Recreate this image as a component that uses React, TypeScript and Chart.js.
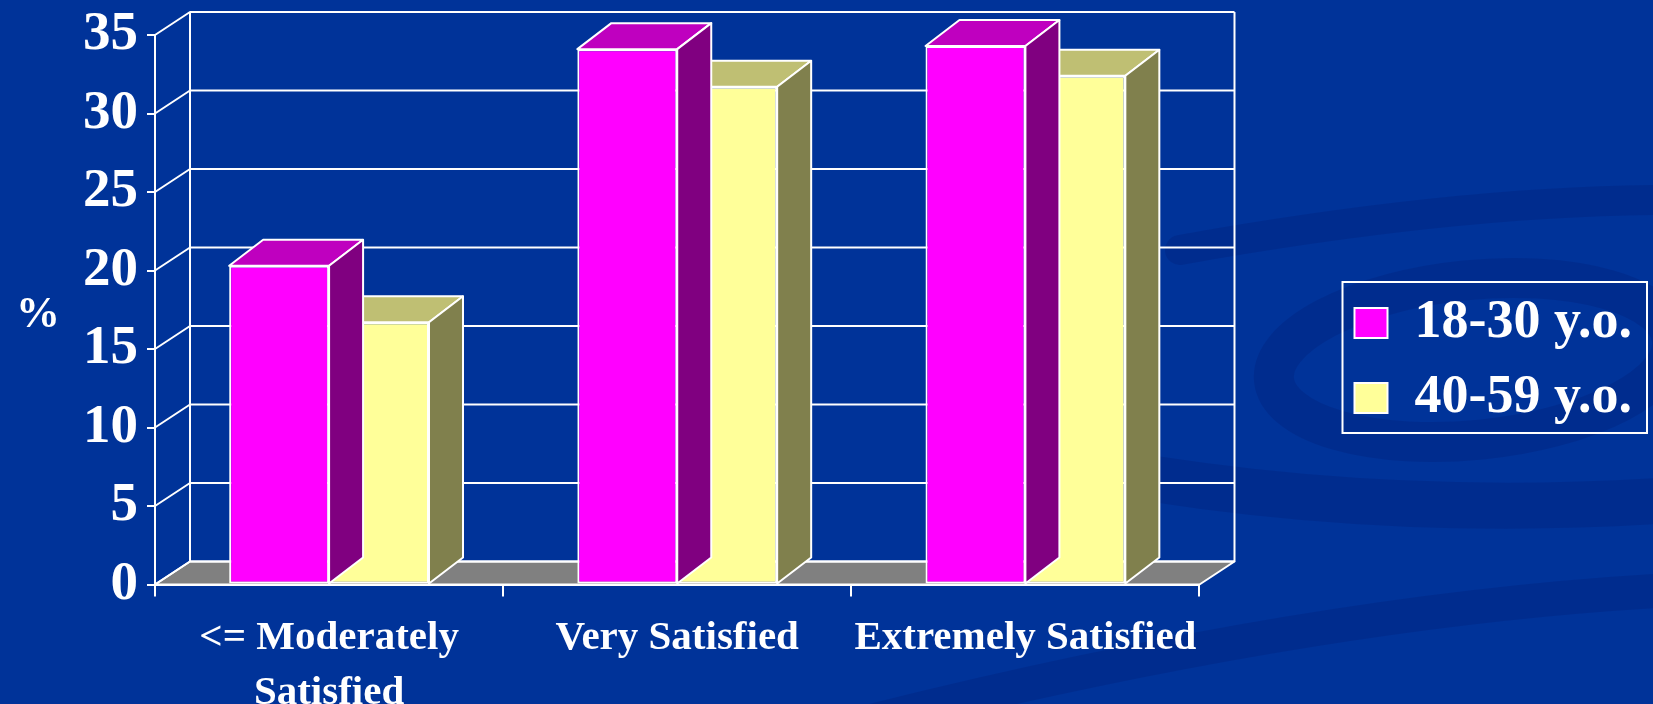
import React, { useEffect, useRef } from 'react';
import { Chart, registerables } from 'chart.js';

Chart.register(...registerables);

// ---- data ----
const categories: (string | string[])[] = [['<= Moderately', 'Satisfied'], 'Very Satisfied', 'Extremely Satisfied'];
const seriesNames = ['18-30 y.o.', '40-59 y.o.'];
const young = [20.3, 34.1, 34.3];
const older = [16.7, 31.7, 32.4];
const yTickValues = [0, 5, 10, 15, 20, 25, 30, 35];
const axisTitle = '%';

// ---- styles ----
const BG = '#003399';
const frontColors = ['#FF00FF', '#FFFF99'];
const topColors = ['#BF00BF', '#BFBF73'];
const sideColors = ['#800080', '#80804D'];
const FLOOR = '#808080';
const FONT = "'Liberation Serif', 'Times New Roman', serif";
const WALL_DX = 35;
const WALL_DY = 23;
const BAR_DX = 34;
const BAR_DY = 26;

function poly(ctx: CanvasRenderingContext2D, pts: number[][], fill: string | null) {
  ctx.beginPath();
  ctx.moveTo(pts[0][0], pts[0][1]);
  for (let i = 1; i < pts.length; i++) ctx.lineTo(pts[i][0], pts[i][1]);
  ctx.closePath();
  if (fill) {
    ctx.fillStyle = fill;
    ctx.fill();
  }
  ctx.stroke();
}

const threeD = {
  id: 'threeD',
  beforeDraw(chart: any) {
    const ctx: CanvasRenderingContext2D = chart.ctx;
    const W = chart.width, H = chart.height;
    ctx.save();
    ctx.fillStyle = BG;
    ctx.fillRect(0, 0, W, H);
    // subtle decorative swirls
    ctx.strokeStyle = 'rgba(0, 25, 105, 0.22)';
    ctx.lineCap = 'round';
    ctx.lineWidth = 40;
    ctx.beginPath();
    ctx.ellipse(W - 180, 360, 200, 80, -0.1, 0, Math.PI * 2);
    ctx.stroke();
    ctx.lineWidth = 46;
    ctx.beginPath();
    ctx.moveTo(1100, 470);
    ctx.quadraticCurveTo(1380, 520, W + 20, 500);
    ctx.stroke();
    ctx.lineWidth = 34;
    ctx.beginPath();
    ctx.moveTo(820, H + 30);
    ctx.quadraticCurveTo(1300, 610, W + 20, 590);
    ctx.stroke();
    ctx.lineWidth = 30;
    ctx.beginPath();
    ctx.moveTo(1180, 250);
    ctx.quadraticCurveTo(1460, 200, W + 20, 200);
    ctx.stroke();
    ctx.restore();
  },
  beforeDatasetsDraw(chart: any) {
    const ctx: CanvasRenderingContext2D = chart.ctx;
    const y = chart.scales.y;
    const { left, right } = chart.chartArea;
    const y0 = y.getPixelForValue(0);
    const yTop = y.getPixelForValue(yTickValues[yTickValues.length - 1]);
    ctx.save();
    ctx.strokeStyle = '#FFFFFF';
    ctx.lineWidth = 2;
    ctx.lineJoin = 'round';
    // floor
    poly(ctx, [[left, y0], [right, y0], [right + WALL_DX, y0 - WALL_DY], [left + WALL_DX, y0 - WALL_DY]], FLOOR);
    // back wall gridlines + side diagonals
    yTickValues.forEach((v) => {
      const py = y.getPixelForValue(v);
      ctx.beginPath();
      ctx.moveTo(left, py);
      ctx.lineTo(left + WALL_DX, py - WALL_DY);
      ctx.lineTo(right + WALL_DX, py - WALL_DY);
      ctx.stroke();
    });
    // back wall verticals
    ctx.beginPath();
    ctx.moveTo(left + WALL_DX, yTop - WALL_DY);
    ctx.lineTo(left + WALL_DX, y0 - WALL_DY);
    ctx.moveTo(right + WALL_DX, yTop - WALL_DY);
    ctx.lineTo(right + WALL_DX, y0 - WALL_DY);
    ctx.stroke();
    ctx.restore();
  },
  afterDatasetDraw(chart: any, args: any) {
    const ctx: CanvasRenderingContext2D = chart.ctx;
    const meta = args.meta;
    const idx = args.index;
    ctx.save();
    ctx.strokeStyle = '#FFFFFF';
    ctx.lineWidth = 2;
    ctx.lineJoin = 'round';
    meta.data.forEach((el: any) => {
      const { x, y, base, width } = el.getProps(['x', 'y', 'base', 'width'], true);
      const l = x - width / 2;
      const r = x + width / 2;
      poly(ctx, [[l, y], [r, y], [r + BAR_DX, y - BAR_DY], [l + BAR_DX, y - BAR_DY]], topColors[idx]);
      poly(ctx, [[r, y], [r + BAR_DX, y - BAR_DY], [r + BAR_DX, base - BAR_DY], [r, base]], sideColors[idx]);
    });
    ctx.restore();
  },
  afterDraw(chart: any) {
    const ctx: CanvasRenderingContext2D = chart.ctx;
    // legend frame
    const hb = chart.legend && chart.legend.legendHitBoxes;
    if (hb && hb.length) {
      let minL = Infinity, maxR = -Infinity;
      hb.forEach((b: any) => {
        minL = Math.min(minL, b.left);
        maxR = Math.max(maxR, b.left + b.width);
      });
      const top = hb[0].top - 14;
      const last = hb[hb.length - 1];
      const bottom = last.top + last.height + 8;
      ctx.save();
      ctx.strokeStyle = '#FFFFFF';
      ctx.lineWidth = 2;
      ctx.strokeRect(minL - 12, top, maxR - minL + 27, bottom - top);
      ctx.restore();
    }
    // unrotated axis title
    const ya = chart.scales.y;
    ctx.save();
    ctx.fillStyle = '#FFFFFF';
    ctx.font = `bold 44px ${FONT}`;
    ctx.textAlign = 'center';
    ctx.textBaseline = 'middle';
    ctx.fillText(axisTitle, 38, (ya.top + ya.bottom) / 2 + 6);
    ctx.restore();
  },
};

export default function App() {
  const ref = useRef<HTMLCanvasElement>(null);
  useEffect(() => {
    document.body.style.margin = '0';
    document.body.style.background = BG;
    const canvas = ref.current!;
    const chart = new Chart(canvas, {
      type: 'bar',
      data: {
        labels: categories as any,
        datasets: [
          {
            label: seriesNames[0],
            data: young,
            backgroundColor: frontColors[0],
            borderColor: '#FFFFFF',
            borderWidth: 2,
            borderSkipped: false,
            categoryPercentage: 0.574,
            barPercentage: 1.0,
            clip: false as any,
          },
          {
            label: seriesNames[1],
            data: older,
            backgroundColor: frontColors[1],
            borderColor: '#FFFFFF',
            borderWidth: 2,
            borderSkipped: false,
            categoryPercentage: 0.574,
            barPercentage: 1.0,
            clip: false as any,
          },
        ],
      },
      options: {
        responsive: false,
        animation: false,
        devicePixelRatio: 1,
        layout: { padding: { top: 17, bottom: 0, left: 0, right: 11 } },
        plugins: {
          legend: {
            position: 'right',
            maxWidth: 340,
            labels: {
              color: '#FFFFFF',
              font: { family: FONT, size: 54, weight: 'bold' },
              boxWidth: 33,
              boxHeight: 30,
              padding: 21,
            },
          },
          tooltip: { enabled: false },
          title: { display: false },
        },
        scales: {
          x: {
            ticks: {
              color: '#FFFFFF',
              font: { family: FONT, size: 41, weight: 'bold', lineHeight: 1.34 },
              padding: 14,
              maxRotation: 0,
              autoSkip: false,
            },
            grid: { display: true, drawOnChartArea: false, drawTicks: true, tickLength: 12, color: '#FFFFFF', lineWidth: 2, offset: true },
            border: { display: true, color: '#FFFFFF', width: 2 },
            afterFit: (s: any) => { s.height = 119.5; s.paddingLeft = 0; s.paddingRight = 0; },
          },
          y: {
            min: 0,
            max: 35,
            afterBuildTicks: (s: any) => { s.ticks = yTickValues.map((v) => ({ value: v })); },
            ticks: {
              color: '#FFFFFF',
              font: { family: FONT, size: 55, weight: 'bold' },
              padding: 9,
            },
            grid: { display: true, drawOnChartArea: false, drawTicks: true, tickLength: 8, color: '#FFFFFF', lineWidth: 2 },
            border: { display: true, color: '#FFFFFF', width: 2 },
            afterFit: (s: any) => { s.width = 155; s.paddingTop = 35; s.paddingBottom = 0; },
          },
          yR: {
            axis: 'y',
            type: 'linear',
            position: 'right',
            display: true,
            ticks: { display: false },
            grid: { display: false },
            border: { display: false },
            afterFit: (s: any) => { s.width = 134; s.paddingTop = 0; s.paddingBottom = 0; },
          },
        },
      } as any,
      plugins: [threeD],
    });
    return () => chart.destroy();
  }, []);
  return (
    <div style={{ width: 1653, height: 704 }}>
      <canvas ref={ref} width={1653} height={704} style={{ display: 'block' }} />
    </div>
  );
}
